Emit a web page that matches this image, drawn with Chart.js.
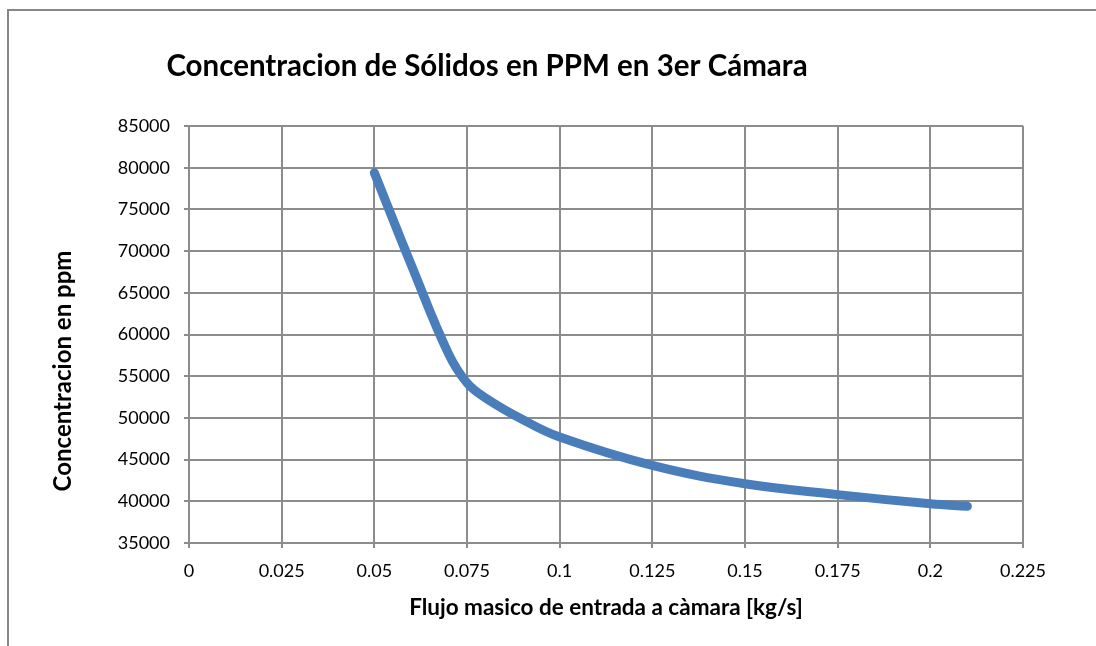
<!DOCTYPE html>
<html lang="es">
<head>
<meta charset="UTF-8">
<title>Concentracion de Sólidos en PPM en 3er Cámara</title>
<script src="https://cdn.jsdelivr.net/npm/chart.js@4.4.0/dist/chart.umd.min.js"></script>
<style>
  html, body { margin: 0; padding: 0; background: #ffffff; overflow: hidden; }
  .marco {
    position: absolute; left: 7px; top: 9px; width: 1200px; height: 800px;
    border-top: 2px solid #878787; border-left: 2px solid #878787;
  }
  .lienzo { position: absolute; left: 0; top: 0; width: 1096px; height: 646px; }
</style>
</head>
<body>
<div class="marco"></div>
<div class="lienzo"><canvas id="grafico" width="1096" height="646"></canvas></div>
<script>
// Flujo masico (kg/s) y concentracion (ppm) en la 3er camara
const flujo = [0.05, 0.06, 0.07, 0.075, 0.08, 0.09, 0.1, 0.125, 0.15, 0.175, 0.2, 0.21];
const concentracion = [79400, 68300, 57700, 54200, 52400, 49800, 47700, 44300, 42100, 40800, 39700, 39400];

const xTicks = [0, 0.025, 0.05, 0.075, 0.1, 0.125, 0.15, 0.175, 0.2, 0.225];
const yTicks = [35000, 40000, 45000, 50000, 55000, 60000, 65000, 70000, 75000, 80000, 85000];

const titulo = 'Concentracion de Sólidos en PPM en 3er Cámara';
const tituloY = 'Concentracion en ppm';
const tituloX = 'Flujo masico de entrada a càmara [kg/s]';

const GRIS = '#8c8c8c';
const FUENTE = 'Lato, "Open Sans", sans-serif';

// Titulo principal y titulo del eje Y (no centrados sobre el area del grafico)
const textosLibres = {
  id: 'textosLibres',
  afterDraw(chart) {
    const ctx = chart.ctx;
    ctx.save();
    ctx.fillStyle = '#000000';
    ctx.textAlign = 'center';
    ctx.textBaseline = 'middle';
    ctx.font = 'bold 29.5px ' + FUENTE;
    ctx.fillText(titulo, 487, 66);
    ctx.translate(63, 371);
    ctx.rotate(-Math.PI / 2);
    ctx.font = 'bold 24px ' + FUENTE;
    ctx.fillText(tituloY, 0, 0);
    ctx.restore();
  }
};

const ctx = document.getElementById('grafico').getContext('2d');
new Chart(ctx, {
  type: 'line',
  data: {
    datasets: [{
      data: flujo.map((x, i) => ({ x, y: concentracion[i] })),
      borderColor: '#4a7ebb',
      borderWidth: 9,
      borderCapStyle: 'round',
      borderJoinStyle: 'round',
      tension: 0.4,
      pointRadius: 0,
      fill: false
    }]
  },
  options: {
    responsive: false,
    animation: false,
    layout: { padding: { top: 126, right: 73, bottom: 0, left: 0 } },
    plugins: {
      legend: { display: false },
      tooltip: { enabled: false },
      title: { display: false }
    },
    scales: {
      x: {
        type: 'linear',
        min: 0,
        max: 0.225,
        afterBuildTicks: s => { s.ticks = xTicks.map(v => ({ value: v })); },
        afterFit: s => { s.height = 103; },
        ticks: {
          color: '#000000',
          font: { family: FUENTE, size: 18 },
          padding: 12,
          maxRotation: 0,
          autoSkip: false,
          callback: v => String(v)
        },
        grid: { color: GRIS, lineWidth: 2, tickLength: 5, drawTicks: true },
        border: { color: GRIS, width: 2 },
        title: {
          display: true,
          text: tituloX,
          color: '#000000',
          font: { family: FUENTE, size: 22.5, weight: 'bold' },
          padding: { top: 0, bottom: 25 }
        }
      },
      y: {
        min: 35000,
        max: 85000,
        afterBuildTicks: s => { s.ticks = yTicks.map(v => ({ value: v })); },
        afterFit: s => { s.width = 189; },
        ticks: {
          color: '#000000',
          font: { family: FUENTE, size: 18 },
          padding: 14,
          autoSkip: false,
          callback: v => String(v)
        },
        grid: { color: GRIS, lineWidth: 2, tickLength: 5, drawTicks: true },
        border: { color: GRIS, width: 2 }
      }
    }
  },
  plugins: [textosLibres]
});
</script>
</body>
</html>
